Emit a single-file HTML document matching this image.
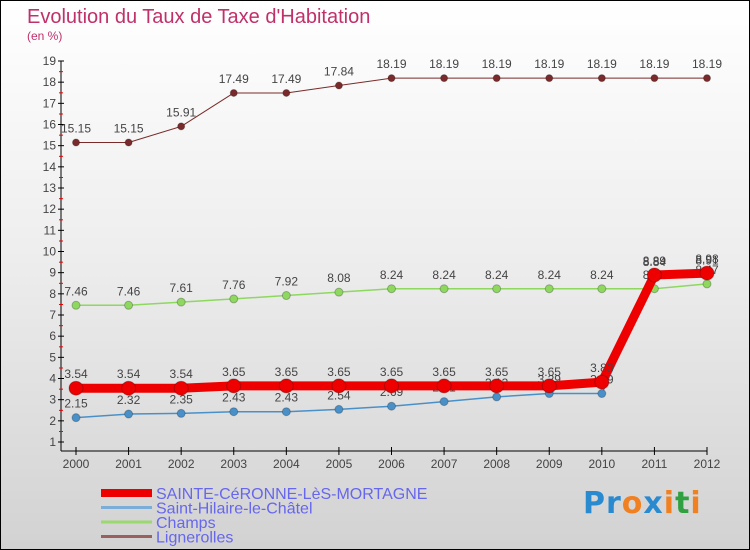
<!DOCTYPE html>
<html><head><meta charset="utf-8"><style>
html,body{margin:0;padding:0}
body{width:750px;height:550px;overflow:hidden;font-family:"Liberation Sans",sans-serif}
#wrap{position:relative;width:748px;height:548px;border:1px solid #000;background:linear-gradient(#fff 0%,#eee 45%,#d2d2d2 100%)}
.t{position:absolute;white-space:nowrap}
</style></head><body>
<div id="wrap">
<div class="t" style="left:26px;top:5px;font-size:20px;color:#c0306a">Evolution du Taux de Taxe d'Habitation</div>
<div class="t" style="left:26px;top:28px;font-size:12px;color:#c0306a">(en %)</div>
<svg id="chart" width="748" height="548" style="position:absolute;left:0;top:0"></svg>
<div class="t" style="left:582px;top:485px;font-size:30px;font-family:'DejaVu Sans',sans-serif;font-weight:bold;letter-spacing:1px"><span style="color:#2a8ad0">P</span><span style="color:#2a8ad0">r</span><span style="color:#f08020">o</span><span style="color:#2a8ad0">x</span><span style="color:#f08020">i</span><span style="color:#30a040">t</span><span style="color:#f08020">i</span></div>
</div>
<script>
const years=["2000","2001","2002","2003","2004","2005","2006","2007","2008","2009","2010","2011","2012"];
const sainteCeronne=[3.54,3.54,3.54,3.65,3.65,3.65,3.65,3.65,3.65,3.65,3.83,8.89,8.98];
const saintHilaire=[2.15,2.32,2.35,2.43,2.43,2.54,2.69,2.91,3.13,3.29,3.29,8.84,8.91];
const champs=[7.46,7.46,7.61,7.76,7.92,8.08,8.24,8.24,8.24,8.24,8.24,8.24,8.47];
const lignerolles=[15.15,15.15,15.91,17.49,17.49,17.84,18.19,18.19,18.19,18.19,18.19,18.19,18.19];
const yTicks=[1,2,3,4,5,6,7,8,9,10,11,12,13,14,15,16,17,18,19];
const NS="http://www.w3.org/2000/svg";
const svg=document.getElementById('chart');
function xs(i){return 75+i*(706-75)/12;}
function ys(v){return 441-(v-1)*(381/18);}
function mk(tag,attrs,parent){const e=document.createElementNS(NS,tag);for(const k in attrs)e.setAttribute(k,attrs[k]);(parent||svg).appendChild(e);return e;}
const ya=mk('line',{x1:60,y1:ys(19),x2:60,y2:450,stroke:'#000','stroke-width':1});


const xa=mk('line',{x1:60,y1:450,x2:706,y2:450,stroke:'#000','stroke-width':1});


yTicks.forEach(v=>{
  const y=ys(v);
  mk('line',{x1:57,y1:y,x2:63,y2:y,stroke:'#000'});
  if(v<19) mk('line',{x1:58,y1:y-10.5,x2:62,y2:y-10.5,stroke:'#e00'});
  const t=mk('text',{x:55,y:y+4,'text-anchor':'end','font-size':12,fill:'#444'});
  t.textContent=v;
  
  
});
years.forEach((yr,i)=>{
  const x=xs(i);
  mk('line',{x1:x,y1:446,x2:x,y2:454,stroke:'#000'});
  const t=mk('text',{x:x,y:467,'text-anchor':'middle','font-size':12,fill:'#444'});
  t.textContent=yr;
  
  
});
function series(data,color,width,r,name){
  const g=mk('g',{});
  
  
  const pts=data.map((v,i)=>xs(i)+','+ys(v)).join(' ');
  mk('polyline',{points:pts,fill:'none',stroke:color,'stroke-width':width,'stroke-linejoin':'round'},g);
  data.forEach((v,i)=>{
    const c=mk('circle',{cx:xs(i),cy:ys(v),r:r,fill:color,stroke:'rgba(0,0,0,0.25)','stroke-width':1},g);
    
    
    const t=mk('text',{x:xs(i),y:ys(v)-10,'text-anchor':'middle','font-size':12,fill:'#444'},g);
    t.textContent=String(v);
    
    
  });
}
series(lignerolles,'#7a2a2a',1,3.5,'series-lignerolles');
series(champs,'#8ed860',1.5,4,'series-champs');
series(saintHilaire,'#4a90c8',1.5,4,'series-saint-hilaire');
series(sainteCeronne,'#ee0000',9,7,'series-sainte-ceronne');
const leg=[['SAINTE-CéRONNE-LèS-MORTAGNE','#ee0000',8],['Saint-Hilaire-le-Châtel','#7aaed8',3],['Champs','#9ad870',3],['Lignerolles','#9a6060',3]];
leg.forEach((l,i)=>{
  const y=492+i*14.5;
  const g=mk('g',{});
  
  
  mk('line',{x1:100,y1:y,x2:151,y2:y,stroke:l[1],'stroke-width':l[2]},g);
  const t=mk('text',{x:155,y:y+6,'font-size':16,fill:'#6666ee'},g);
  t.textContent=l[0];
});
</script>
</body></html>
